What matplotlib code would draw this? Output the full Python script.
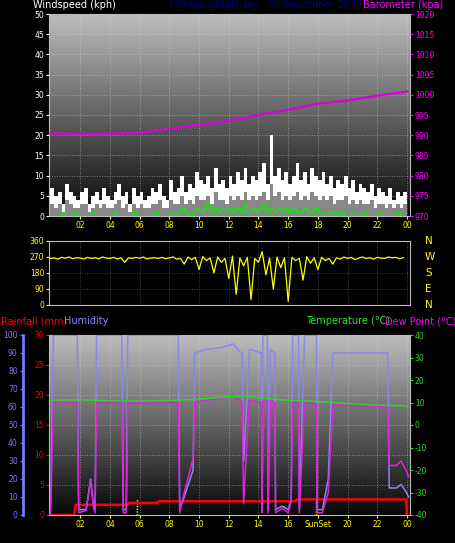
import matplotlib
matplotlib.use("Agg")
import matplotlib.pyplot as plt
import numpy as np

plt.rcParams["axes.unicode_minus"] = False
W, H = 455, 543

# ── Data ─────────────────────────────────────────────────────────
hours_q = np.arange(0, 24, 0.25)  # 15-minute slots
gust = [7, 5, 6, 3, 8, 6, 5, 4, 6, 7, 3, 5, 6, 4, 7, 5,
        4, 6, 8, 5, 6, 3, 7, 5, 6, 4, 5, 7, 6, 8, 5, 4,
        9, 6, 7, 10, 6, 8, 7, 11, 9, 8, 10, 7, 12, 8, 9, 7,
        10, 8, 11, 9, 12, 8, 10, 9, 11, 13, 8, 20, 10, 12, 9, 11,
        8, 10, 13, 9, 11, 8, 12, 10, 9, 11, 8, 10, 7, 9, 8, 10,
        7, 9, 6, 8, 7, 6, 8, 5, 7, 6, 5, 7, 4, 6, 5, 6]
avg = [3, 2, 3, 1, 4, 3, 2, 2, 3, 3, 1, 2, 3, 2, 3, 2,
       2, 3, 4, 2, 3, 1, 3, 2, 3, 2, 2, 3, 3, 4, 2, 2,
       4, 3, 3, 5, 3, 4, 3, 5, 4, 4, 5, 3, 6, 4, 4, 3,
       5, 4, 5, 4, 6, 4, 5, 4, 5, 6, 4, 8, 5, 6, 4, 5,
       4, 5, 6, 4, 5, 4, 6, 5, 4, 5, 4, 5, 3, 4, 4, 5,
       3, 4, 3, 4, 3, 3, 4, 2, 3, 3, 2, 3, 2, 3, 2, 3]
wind_green = [0, 0, 0, 1, 0, 0, 1, 0, 0, 0, 0, 1, 0, 0, 0, 0,
              0, 1, 0, 0, 0, 0, 1, 0, 0, 0, 0, 0, 1, 0, 0, 0,
              1, 0, 1, 2, 1, 0, 1, 2, 1, 2, 3, 1, 2, 1, 2, 1,
              2, 1, 2, 1, 3, 1, 2, 1, 2, 3, 1, 2, 1, 2, 1, 2,
              1, 2, 1, 1, 2, 1, 1, 2, 1, 1, 0, 1, 1, 0, 1, 0,
              0, 1, 0, 0, 1, 0, 0, 0, 1, 0, 0, 0, 0, 1, 0, 0]

baro_h = [0, 2, 4, 6, 8, 10, 12, 14, 16, 18, 20, 22, 24]
baro = [990.5, 990.3, 990.4, 990.6, 991.6, 992.6, 993.5, 995.0, 996.3, 997.8, 998.6, 999.8, 1000.8]

direction = [262, 265, 258, 268, 263, 270, 260, 266, 264, 259, 268, 262, 266, 260, 270, 264,
             262, 268, 259, 265, 240, 266, 262, 268, 263, 270, 259, 264, 266, 262, 268, 260,
             265, 270, 258, 262, 230, 270, 255, 268, 200, 272, 250, 265, 180, 270, 240, 262,
             150, 275, 60, 265, 220, 268, 30, 262, 240, 300, 170, 264, 90, 270, 210, 266,
             20, 268, 250, 262, 140, 272, 235, 265, 200, 268, 250, 262, 230, 266, 258, 270,
             262, 268, 255, 264, 270, 262, 266, 258, 268, 264, 262, 270, 265, 268, 260, 266]

hum_h = [0.0, 0.2, 1.8, 1.9, 2.4, 2.7, 2.9, 3.0, 3.1, 4.8, 4.9, 5.1, 5.2, 8.6, 8.7, 9.0, 9.6, 9.7,
         10.5, 11.5, 12.3, 12.7, 12.9, 13.0, 13.2, 13.4, 14.2, 14.25, 14.3, 14.6, 14.65, 14.8,
         15.1, 15.15, 15.6, 16.0, 16.2, 16.3, 16.7, 16.75, 17.1, 17.9, 17.95, 18.3, 18.7, 19.0,
         22.7, 22.8, 23.3, 23.6, 24.0, 24.1]
humidity = [3, 100, 100, 3, 3, 20, 5, 3, 100, 100, 3, 3, 100, 100, 3, 10, 25, 90,
            92, 93, 95, 91, 90, 30, 60, 92, 90, 3, 100, 100, 3, 92,
            90, 3, 5, 3, 8, 100, 100, 3, 100, 100, 3, 3, 20, 90,
            90, 15, 15, 17, 12, 10]
temp_h = [0, 2, 4, 6, 8, 10, 12, 13, 14, 16, 18, 20, 22, 24]
temperature = [11.0, 11.2, 10.8, 10.6, 10.9, 11.5, 12.5, 13.0, 12.0, 11.0, 10.5, 9.5, 8.8, 8.5]
dew_h = hum_h
dewpoint = [-40, 10, 10, -39, -38, -25, -37, -39, 10, 10, -39, -39, 10, 10, -39, -30, -15, 10,
            11, 12, 13, 11, 10, -35, -10, 11, 10, -39, 11, 11, -39, 11,
            10, -39, -37, -39, -34, 10, 10, -39, 10, 9, -39, -39, -30, 9,
            8, -18, -18, -16, -21, -23]
rain_h = [0, 1.6, 1.7, 5.2, 5.3, 7.2, 7.3, 16.5, 16.6, 23.95, 24.0]
rain = [0, 0, 1.7, 1.7, 2.0, 2.0, 2.3, 2.3, 2.6, 2.6, 0]

sunrise, sunset = 5.8, 17.9
xticks = [2, 4, 6, 8, 10, 12, 14, 16, 18, 20, 22, 24]
xticklabels = ["02", "04", "06", "08", "10", "12", "14", "16", "SunSet", "20", "22", "00"]

FS = 5.5   # tick font
HS = 7     # header font

# ── Figure ───────────────────────────────────────────────────────
fig = plt.figure(figsize=(W / 100, H / 100), dpi=100, facecolor="black")
L, R = 49 / W, 410 / W


def axbox(top, bot):
    return [L, 1 - bot / H, R - L, (bot - top) / H]


def style(ax, gridcolor="#dddddd"):
    ax.set_facecolor("black")
    grad = np.linspace(0.74, 0.03, 256).reshape(-1, 1)
    ax.imshow(grad, cmap="gray", vmin=0, vmax=1, aspect="auto", extent=[0, 1, 0, 1],
              transform=ax.transAxes, zorder=0)
    ax.grid(True, color=gridcolor, linestyle=(0, (1, 2)), linewidth=0.6, alpha=0.6)
    for s in ax.spines.values():
        s.set_color("#bbbbbb")
    ax.tick_params(labelsize=FS, length=2, pad=1.5)
    ax.set_xlim(-0.1, 24.2)
    ax.set_xticks(xticks)


# Top: wind + barometer
ax1 = fig.add_axes(axbox(14, 216))
style(ax1)
ax1.bar(hours_q, gust, width=0.25, align="edge", color="white", zorder=2)
ax1.bar(hours_q, avg, width=0.25, align="edge", color="#888888", zorder=3)
ax1.step(hours_q, wind_green, where="post", color="#22dd22", lw=1, zorder=4)
ax1.set_ylim(0, 50)
ax1.set_yticks(range(0, 51, 5))
ax1.tick_params(axis="y", colors="white")
ax1.tick_params(axis="x", colors="yellow")
ax1.set_xticklabels(["02", "04", "06", "08", "10", "12", "14", "16", "18", "20", "22", "00"])
ax1b = ax1.twinx()
ax1b.plot(baro_h, baro, color="#dd00dd", lw=1.6, zorder=5)
ax1b.set_ylim(970, 1020)
ax1b.set_yticks(range(970, 1021, 5))
ax1b.tick_params(axis="y", colors="#ff00ff", labelsize=FS, length=2, pad=1.5)
for s in ax1b.spines.values():
    s.set_visible(False)
fig.text(33 / W, 1 - 5 / H, "Windspeed (kph)", color="white", fontsize=HS, va="center")
fig.text(168 / W, 1 - 5 / H, "24 hour graph day : 06 December 2025", color="#000080", fontsize=HS, va="center")
fig.text(363 / W, 1 - 5 / H, "Barometer (kpa)", color="#ff00ff", fontsize=HS, va="center")

# Middle: wind direction
ax2 = fig.add_axes(axbox(241, 305))
ax2.set_facecolor("black")
ax2.plot(hours_q, direction, color="yellow", lw=0.9)
ax2.set_ylim(0, 360)
ax2.set_yticks(range(0, 361, 90))
ax2.set_xlim(-0.1, 24.2)
ax2.set_xticks(xticks)
ax2.set_xticklabels([])
ax2.grid(True, color="#555555", linestyle=(0, (1, 2)), linewidth=0.6)
ax2.tick_params(axis="y", colors="yellow", labelsize=FS, length=2, pad=1.5)
ax2.tick_params(axis="x", length=0)
for s in ax2.spines.values():
    s.set_color("#bbbbbb")
for lbl, yy in zip(["N", "W", "S", "E", "N"], [241, 257, 273, 289, 305]):
    fig.text(425 / W, 1 - yy / H, lbl, color="yellow", fontsize=7.5, va="center")

# Bottom: rain, humidity, temperature, dew point
ax3 = fig.add_axes(axbox(335, 515))
style(ax3)
ax3.plot(rain_h, rain, color="red", lw=1.8, zorder=6)
ax3.set_ylim(0, 30)
ax3.set_yticks(range(0, 31, 5))
ax3.tick_params(axis="y", colors="red")
ax3.tick_params(axis="x", colors="yellow")
ax3.set_xticklabels(xticklabels)
for xv in (sunrise, sunset):
    ax3.axvline(xv, color="yellow", linestyle=(0, (1, 1)), lw=1, ymax=0.09, zorder=5)

axh = ax3.twinx()
axh.yaxis.set_ticks_position("left")
axh.yaxis.set_label_position("left")
axh.spines["left"].set_position(("outward", 19))
axh.spines["left"].set_color("#7777ff")
axh.spines["left"].set_linewidth(2)
for s in ("right", "top", "bottom"):
    axh.spines[s].set_visible(False)
axh.plot(hum_h, humidity, color="#8888ee", lw=1.1, zorder=3)
axh.set_ylim(0, 100)
axh.set_yticks(range(0, 101, 10))
axh.tick_params(axis="y", colors="#7777ff", labelsize=FS, length=2, pad=1.5)

axt = ax3.twinx()
axt.plot(dew_h, dewpoint, color="#dd22dd", lw=1.1, zorder=4)
axt.plot(temp_h, temperature, color="#22dd22", lw=1.1, zorder=5)
axt.set_ylim(-40, 40)
axt.set_yticks(range(-40, 41, 10))
axt.tick_params(axis="y", colors="#22dd22", labelsize=FS, length=2, pad=1.5)
for s in axt.spines.values():
    s.set_visible(False)

fig.text(1 / W, 1 - 321 / H, "Rainfall (mm)", color="red", fontsize=HS, va="center")
fig.text(64 / W, 1 - 321 / H, "Humidity", color="#8888ff", fontsize=HS, va="center")
fig.text(306 / W, 1 - 321 / H, "Temperature (°C)", color="#22ee22", fontsize=HS, va="center")
fig.text(385 / W, 1 - 321 / H, "Dew Point (°C)", color="#ff00ff", fontsize=HS, va="center")

fig.savefig("out.png", dpi=100, facecolor="black")
